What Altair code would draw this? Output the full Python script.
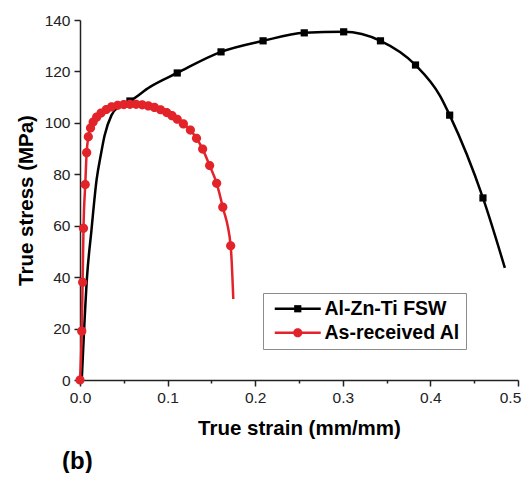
import altair as alt
import pandas as pd

series_names = ["Al-Zn-Ti FSW", "As-received Al"]
series_colors = ["#000000", "#e3232a"]

# Al-Zn-Ti FSW curve (line) and its square markers
fsw_strain = [0.002, 0.008, 0.013, 0.019, 0.024, 0.028, 0.036, 0.045, 0.057, 0.08,
              0.111, 0.161, 0.209, 0.256, 0.301, 0.343, 0.383, 0.411, 0.422, 0.460, 0.485]
fsw_stress = [0, 40, 58, 78, 88, 95, 103, 106.5, 108.5, 114,
              119.4, 127.6, 131.9, 135.0, 135.4, 131.9, 122.5, 110.5, 103, 70.8, 43.6]
fsw_mark_strain = [0.057, 0.111, 0.161, 0.209, 0.256, 0.301, 0.343, 0.383, 0.422, 0.460]
fsw_mark_stress = [108.5, 119.4, 127.6, 131.9, 135.0, 135.4, 131.9, 122.5, 103, 70.8]

# As-received Al curve; every point but the last carries a circle marker
al_strain = [0.0, 0.002, 0.003, 0.004, 0.006, 0.0076, 0.0095, 0.012, 0.015, 0.019,
             0.024, 0.030, 0.036, 0.043, 0.050, 0.057, 0.064, 0.071, 0.078, 0.085,
             0.092, 0.099, 0.105, 0.111, 0.118, 0.126, 0.133, 0.140, 0.148, 0.156,
             0.163, 0.172, 0.175]
al_stress = [0, 19, 38, 59, 76, 88.4, 94.6, 98, 100.3, 102.2,
             103.8, 105.2, 106.2, 106.8, 107.1, 107.2, 107.2, 107.0, 106.6, 106.0,
             105.1, 104.0, 102.8, 101.4, 99.6, 97.2, 94.0, 89.8, 83.4, 76.5,
             67.2, 52.2, 31.5]

x_ticks = [round(i * 0.05, 2) for i in range(11)]
y_ticks = list(range(0, 141, 10))

line_df = pd.concat([
    pd.DataFrame({"strain": fsw_strain, "stress": fsw_stress, "series": series_names[0], "order": range(len(fsw_strain))}),
    pd.DataFrame({"strain": al_strain, "stress": al_stress, "series": series_names[1], "order": range(len(al_strain))}),
])
pts_df = pd.concat([
    pd.DataFrame({"strain": fsw_mark_strain, "stress": fsw_mark_stress, "series2": series_names[0]}),
    pd.DataFrame({"strain": al_strain[:-1], "stress": al_stress[:-1], "series2": series_names[1]}),
])

FONT = "Liberation Sans"
SYM = 100
line_path = "M-4.6,0H4.6"
sq_path = "M-0.72,-0.72H0.72V0.72H-0.72Z"
circ_path = "M0.92,0A0.92,0.92,0,1,1,-0.92,0A0.92,0.92,0,1,1,0.92,0Z"

legend_common = dict(
    orient="none", legendX=183, legendY=273, title=None,
    symbolSize=SYM, symbolOffset=19, labelOffset=17,
    labelFont=FONT, labelFontWeight="bold", labelFontSize=19.5,
    padding=6, rowPadding=3, labelLimit=300,
)

x_enc = alt.X("strain:Q", scale=alt.Scale(domain=[0, 0.5], nice=False),
              axis=alt.Axis(values=x_ticks, title="True strain (mm/mm)", labelFlush=False,
                            labelExpr="round(datum.value*100) % 10 == 0 ? format(datum.value, '.1f') : ''",
                            labelOffset={"condition": {"test": "datum.value >= 0.5", "value": -8}, "value": 0},
                            tickSize={"condition": {"test": "round(datum.value*100) % 10 == 0", "value": 6}, "value": 3}))
y_enc = alt.Y("stress:Q", scale=alt.Scale(domain=[0, 140], nice=False),
              axis=alt.Axis(values=y_ticks, title="True stress (MPa)", labelFlush=False,
                            labelExpr="datum.value % 20 == 0 ? datum.value : ''",
                            tickSize={"condition": {"test": "datum.value % 20 == 0", "value": 6}, "value": 3}))

lines = alt.Chart(line_df).mark_line(strokeWidth=2.5, interpolate="monotone").encode(
    x=x_enc, y=y_enc,
    color=alt.Color("series:N", scale=alt.Scale(domain=series_names, range=series_colors),
                    legend=alt.Legend(symbolType=line_path, symbolStrokeWidth=2.5,
                                      strokeColor="#8c8c8c", **legend_common)),
    detail="series:N",
    order="order:Q",
)

points = alt.Chart(pts_df).mark_point(filled=True, size=SYM, strokeWidth=0, opacity=1).encode(
    x="strain:Q", y="stress:Q",
    fill=alt.Fill("series2:N", scale=alt.Scale(domain=series_names, range=series_colors),
                  legend=alt.Legend(labelColor="transparent", symbolStrokeWidth=0, **legend_common)),
    shape=alt.Shape("series2:N", scale=alt.Scale(domain=series_names, range=[sq_path, circ_path]),
                    legend=alt.Legend(labelColor="transparent", symbolStrokeWidth=0, **legend_common)),
)

chart = alt.layer(lines, points).properties(
    width=438, height=360,
    autosize=alt.AutoSizeParams(type="none"),
    padding={"left": 72, "top": 12, "right": 4, "bottom": 93},
    title=alt.TitleParams("(b)", orient="bottom", anchor="start", frame="group", dx=-18, offset=11,
                          font=FONT, fontSize=24, fontWeight="bold", color="#000"),
).resolve_scale(color="independent").configure_view(stroke=None).configure_axis(
    labelFont=FONT, labelFontSize=15.5, labelColor="#222", labelPadding=4,
    titleFont=FONT, titleFontSize=20.5, titleFontWeight="bold", titleColor="#000",
    domainColor="#222", domainWidth=1.5, tickColor="#222", tickWidth=1.5, grid=False,
).configure_axisX(titlePadding=13).configure_axisY(titlePadding=8)

chart.save("out.html", embed_options={"renderer": "svg", "actions": False})
